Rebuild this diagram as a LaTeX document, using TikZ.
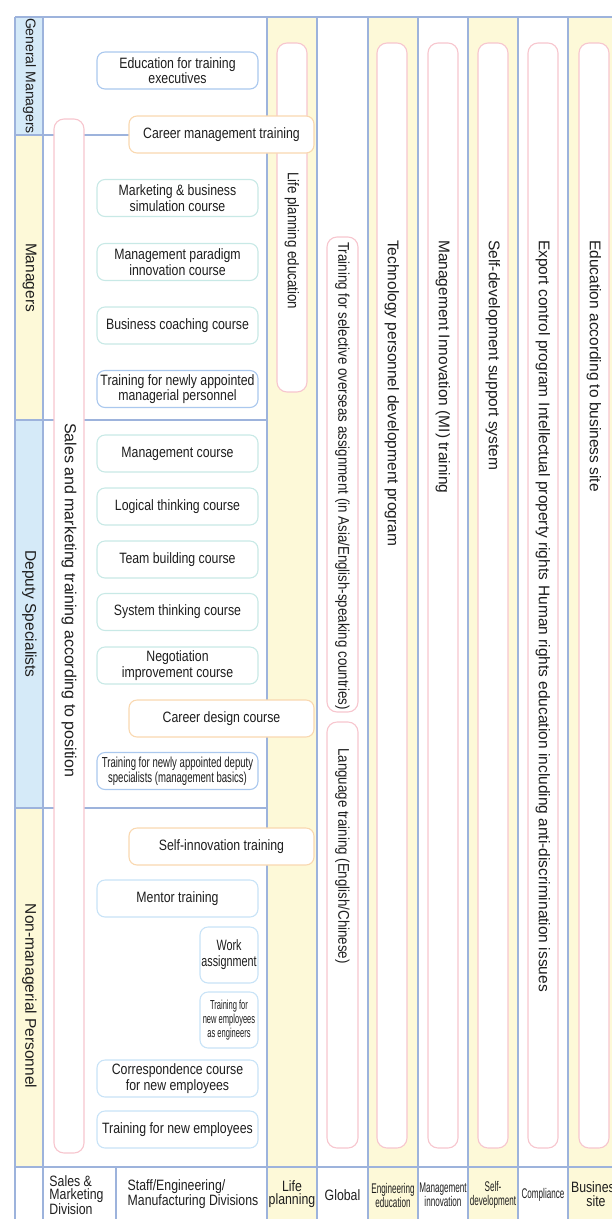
\documentclass[tikz,border=0pt]{standalone}
\usepackage{fontspec}
\setmainfont{Liberation Sans}
\newfontfamily\nfont[FakeStretch=0.82]{Liberation Sans}
\newfontfamily\cfont[FakeStretch=0.86]{Liberation Sans}
\newfontfamily\dfont[FakeStretch=0.66]{Liberation Sans}
\newfontfamily\wfont[FakeStretch=0.72]{Liberation Sans}
\newfontfamily\xfont[FakeStretch=0.58]{Liberation Sans}

\definecolor{gridc}{HTML}{9DB3DC}
\definecolor{ylw}{HTML}{FDF9D8}
\definecolor{lblue}{HTML}{D5EAF8}
\definecolor{pinkc}{HTML}{F7C6CE}
\definecolor{orangec}{HTML}{F9D8B0}
\definecolor{tealc}{HTML}{C8E9E6}
\definecolor{bluec}{HTML}{AAC8EE}
\definecolor{skyc}{HTML}{C8E3F7}
\definecolor{txtc}{HTML}{1E1E1E}

\newcommand{\boxfnt}{\nfont\fontsize{15}{15.5}\selectfont}
\newcommand{\colfnt}{\cfont\fontsize{15.5}{16}\selectfont}
\newcommand{\widecolfnt}{\fontsize{15.5}{16}\selectfont}
\newcommand{\lvlfnt}{\fontsize{15.5}{16}\selectfont}
\newcommand{\salesfnt}{\fontsize{16}{17}\selectfont}
\newcommand{\hdrfnt}{\nfont\fontsize{15}{13.5}\selectfont}
\newcommand{\narrowfnt}{\xfont\fontsize{14}{14}\selectfont}

\tikzset{
  grid line/.style={draw=gridc, line width=1.1pt},
  course/.style={draw, rounded corners=8pt, fill=white, line width=1.1pt,
    inner sep=0pt, align=center, font=\boxfnt, text=txtc,
    minimum width=161pt, minimum height=37pt},
  wide course/.style={course, minimum width=185pt},
  short course/.style={course, minimum width=58pt, minimum height=56pt},
  pillar/.style={draw=pinkc, rounded corners=10pt, fill=white, line width=1.1pt,
    inner sep=0pt, minimum width=30pt},
  coltext/.style={rotate=-90, anchor=west, font=\colfnt, text=txtc, inner sep=0pt},
  widecoltext/.style={coltext, font=\widecolfnt},
  level/.style={rotate=-90, font=\lvlfnt, text=txtc, inner sep=0pt},
  head/.style={font=\hdrfnt, text=txtc, align=center, inner sep=0pt},
  narrowhead/.style={head, font=\narrowfnt},
}

\begin{document}
\begin{tikzpicture}[x=1pt, y=-1pt]
\useasboundingbox (0,0) rectangle (612,1219);
\clip (0,0) rectangle (612,1219);

% ---- cell fills ----
\fill[lblue] (15,17) rectangle (43,135);
\fill[ylw]   (15,135) rectangle (43,420);
\fill[lblue] (15,420) rectangle (43,808);
\fill[ylw]   (15,808) rectangle (43,1167);
\fill[ylw] (267,17) rectangle (317,1230);
\fill[ylw] (368,17) rectangle (418,1230);
\fill[ylw] (468,17) rectangle (518,1230);
\fill[ylw] (568,17) rectangle (630,1230);

% ---- table rules ----
\draw[grid line] (15,17) -- (630,17);
\draw[grid line] (15,1167) -- (630,1167);
\foreach \gx in {15,43,267,317,368,418,468,518,568}
  \draw[grid line] (\gx,17) -- (\gx,1230);
\draw[grid line] (116,1167) -- (116,1230);
\foreach \gy in {135,420,808}
  \draw[grid line] (15,\gy) -- (267,\gy);

% ---- position levels ----
\node[level, font=\fontsize{14}{14}\selectfont] (lvgm) at (29.5,76) {General Managers};
\node[level] (lvmgr) at (29.5,277.5) {Managers};
\node[level] (lvdep) at (29.5,614) {Deputy Specialists};
\node[level] (lvnon) at (29.5,996) {Non-managerial Personnel};

% ---- tall pink pillars ----
\node[pillar, minimum height=1034pt] (sales) at (69,636) {};
\node[rotate=-90, font=\salesfnt, text=txtc, inner sep=0pt] (salestxt) at (69,600)
  {Sales and marketing training according to position};

\node[pillar, minimum height=349pt] (life) at (292,217.5) {};
\node[coltext] (lifetxt) at (292,172) {Life planning education};

\node[pillar, minimum height=475pt, minimum width=31pt] (overseas) at (342.5,474.5) {};
\node[coltext] (overseastxt) at (342.5,242)
  {Training for selective overseas assignment (in Asia/English-speaking countries)};

\node[pillar, minimum height=426pt, minimum width=31pt] (lang) at (342.5,935) {};
\node[coltext] (langtxt) at (342.5,748) {Language training (English/Chinese)};

\node[pillar, minimum height=1105pt] (tech) at (392,595.5) {};
\node[widecoltext] (techtxt) at (392,240) {Technology personnel development program};

\node[pillar, minimum height=1105pt] (mi) at (443,595.5) {};
\node[widecoltext] (mitxt) at (443,240) {Management Innovation (MI) training};

\node[pillar, minimum height=1105pt] (selfdev) at (493,595.5) {};
\node[widecoltext] (selfdevtxt) at (493,240) {Self-development support system};

\node[pillar, minimum height=1105pt] (comp) at (543,595.5) {};
\node[widecoltext] (comptxt) at (543,240)
  {Export control program\hspace{5pt}Intellectual property rights\hspace{5pt}Human rights education including anti-discrimination issues};

\node[pillar, minimum height=1105pt] (biz) at (594,595.5) {};
\node[widecoltext] (biztxt) at (594,240) {Education according to business site};

% ---- course boxes ----
\node[course, draw=bluec] (exec) at (177.5,70.5) {Education for training\\executives};
\node[wide course, draw=orangec] (cmt) at (221.5,134.5) {Career management training};
\node[course, draw=tealc] (mktsim) at (177.5,198) {Marketing \& business\\simulation course};
\node[course, draw=tealc] (paradigm) at (177.5,262) {Management paradigm\\innovation course};
\node[course, draw=tealc] (coach) at (177.5,325.5) {Business coaching course};
\node[course, draw=bluec] (newmgr) at (177.5,389) {Training for newly appointed\\managerial personnel};
\node[course, draw=tealc] (mgmt) at (177.5,453.5) {Management course};
\node[course, draw=tealc] (logic) at (177.5,506.5) {Logical thinking course};
\node[course, draw=tealc] (team) at (177.5,559.5) {Team building course};
\node[course, draw=tealc] (systh) at (177.5,612) {System thinking course};
\node[course, draw=tealc] (negot) at (177.5,665.5) {Negotiation\\improvement course};
\node[wide course, draw=orangec] (cdc) at (221.5,718.5) {Career design course};
\node[course, draw=bluec, font=\dfont\fontsize{14.5}{15}\selectfont] (newdep) at (177.5,771)
  {Training for newly appointed deputy\\specialists (management basics)};
\node[wide course, draw=orangec] (selfinn) at (221.5,846.5) {Self-innovation training};
\node[course, draw=skyc] (mentor) at (177.5,898.5) {Mentor training};
\node[short course, draw=skyc, font=\wfont\fontsize{15}{16}\selectfont] (work) at (229,955) {Work\\assignment};
\node[short course, draw=skyc, font=\xfont\fontsize{13}{13.7}\selectfont] (engnew) at (229,1020)
  {Training for\\new employees\\as engineers};
\node[course, draw=skyc] (corresp) at (177.5,1078.5) {Correspondence course\\for new employees};
\node[course, draw=skyc] (newemp) at (177.5,1129.5) {Training for new employees};

% ---- column headings ----
\node[head, align=left] (hsales) at (76.5,1195) {Sales \&\\Marketing\\Division};
\node[head, align=left] (hstaff) at (193,1194) {Staff/Engineering/\\Manufacturing Divisions};
\node[head] (hlife) at (292,1194) {Life\\planning};
\node[head] (hglobal) at (342.5,1195) {Global};
\node[narrowhead] (heng) at (393,1195) {Engineering\\education};
\node[narrowhead] (hmi) at (443,1195) {Management\\innovation};
\node[narrowhead] (hself) at (493,1195) {Self-\\development};
\node[narrowhead] (hcomp) at (543,1195) {Compliance};
\node[head] (hbiz) at (596,1194) {Business\\site};
\end{tikzpicture}
\end{document}
